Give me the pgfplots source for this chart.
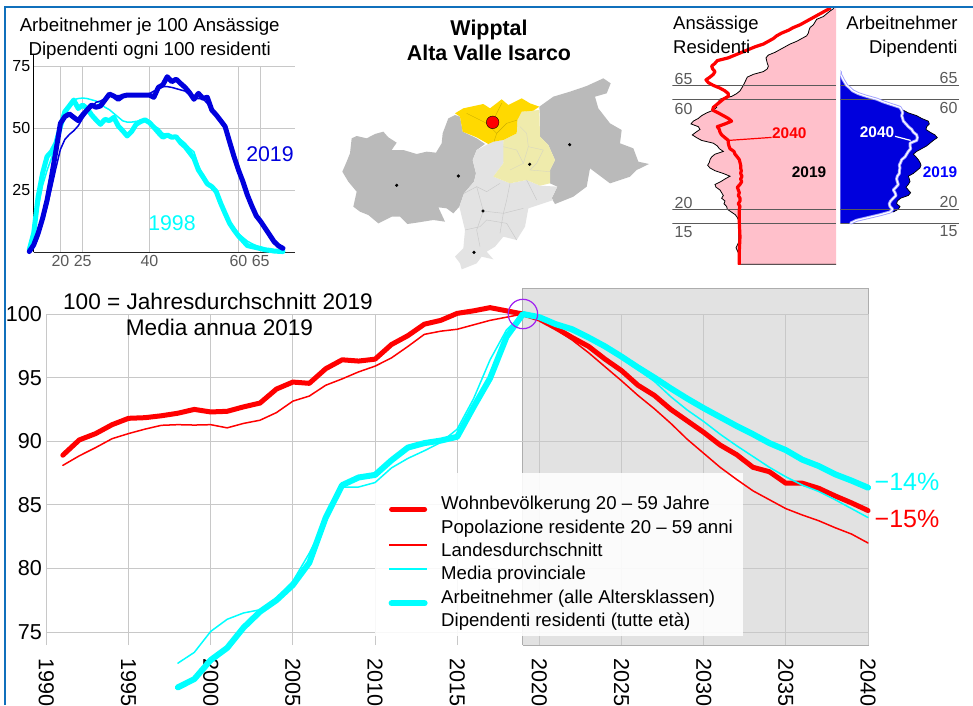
\documentclass[border=0pt]{standalone}
\usepackage{fontspec}
\setmainfont{Liberation Sans}
\usepackage{pgfplots}
\pgfplotsset{compat=1.18}
\newcommand\fs[1]{\fontsize{#1}{23}\selectfont}
\definecolor{cyan}{HTML}{00FFFF}
\definecolor{red}{HTML}{FF0000}
\definecolor{frameblue}{HTML}{1070BC}
\definecolor{gridc}{HTML}{C8C8C8}
\definecolor{darkb}{HTML}{0000DD}
\definecolor{pinkf}{HTML}{FFC0CB}
\definecolor{boxg}{HTML}{E2E2E2}
\definecolor{lab}{HTML}{5A5A5A}
\definecolor{mapg}{HTML}{BABABA}
\definecolor{mapl}{HTML}{E3E3E3}
\definecolor{mapy}{HTML}{FFD900}
\definecolor{mapp}{HTML}{EFEBAC}
\definecolor{purp}{HTML}{A020F0}
\definecolor{lav}{HTML}{A0A0FF}
\pgfplotsset{
  every axis/.append style={/pgf/number format/assume math mode=true,/pgf/number format/1000 sep={}},
  tl/.style={line join=round,line cap=round},
}
\begin{document}
\begin{tikzpicture}[x=1pt,y=1pt]
\useasboundingbox (0,0) rectangle (973,705);
\clip (0,0) rectangle (973,705);
\fill[white] (0,0) rectangle (973,705);

% ---------- top-left: employees per 100 residents by age
\begin{axis}[at={(33.7pt,452.7pt)},anchor=south west,scale only axis,width=261.3pt,height=186pt,
  xmin=14,xmax=72.7,ymin=0,ymax=75,clip=false,
  axis x line=bottom,axis y line=left,axis line style={-,color=black!85,line width=0.9pt},
  xtick={20,25,40,60,65},ytick={25,50,75},major tick length=0pt,
  xmajorgrids,ymajorgrids,grid style={gridc,line width=1.1pt},
  xticklabel style={font=\fs{16},text=lab,yshift=1pt},
  yticklabel style={font=\fs{16},text=black},
]
\addplot[black,line width=0.9pt] coordinates {(14,0)(14,80)};
\addplot[cyan,line width=1.5pt,tl] coordinates {(13,1)(14,7)(15,18)(16,27)(17,33)(18,38)(19,44)(20,52)(21,56.5)(22,59.5)(23,61.5)(24,62)(25,62.2)(26,62)(27,61.5)(28,61)(29,60)(30,58.5)(31,57.5)(32,56)(33,54.5)(34,53)(35,52.5)(36,52.5)(37,52.8)(38,53)(39,53.2)(40,52.3)(41,51)(42,50)(43,48)(44,47.3)(45,47)(46,46.8)(47,45.5)(48,44)(49,42)(50,40.5)(51,35)(52,31)(53,28)(54,26.5)(55,24)(56,20)(57,16)(58,12.5)(59,10)(60,7.5)(61,6)(62,4.5)(63,3.5)(64,2.7)(65,2)(66,1.5)(67,1)(68,.7)(69,.5)(70,.3)};
\addplot[cyan,line width=5pt,tl] coordinates {(13,1)(14,7.7)(15,22.4)(16,31.9)(17,38.6)(18,40.6)(19,44)(20,50.7)(21,56.7)(22,59)(23,61.4)(24,58)(25,59.4)(26,58)(27,55.4)(28,53.4)(29,51.6)(30,53.6)(31,53.1)(32,54.4)(33,50.9)(34,49)(35,46.9)(36,48.7)(37,51.6)(38,52.7)(39,53.4)(40,52.3)(41,50.4)(42,48.3)(43,46.4)(44,47.3)(45,46.4)(46,46.6)(47,44.2)(48,42.6)(49,40.3)(50,37.9)(51,33.2)(52,30.5)(53,27.6)(54,26.5)(55,24.5)(56,19.8)(57,15.7)(58,11.7)(59,9)(60,6.6)(61,4.7)(62,2.7)(63,2.3)(64,1.9)(65,1.5)(66,1)(67,.8)(68,.5)(69,.4)(70,.3)};
\addplot[darkb,line width=1.5pt,tl] coordinates {(13,.3)(14,2)(15,6)(16,12)(17,18.5)(18,26)(19,34)(20,41.5)(21,45.5)(22,47.5)(23,49)(24,51)(25,54)(26,56.5)(27,58.5)(28,60.5)(29,61)(30,62)(31,63)(32,63.2)(33,63.2)(34,63.3)(35,63.4)(36,63.5)(37,63.6)(38,63.7)(39,63.7)(40,64)(41,65)(42,66)(43,66.8)(44,66.8)(45,66.5)(46,66)(47,65.5)(48,65)(49,63.5)(50,62)(51,62)(52,62)(53,60)(54,57.5)(55,55)(56,53)(57,50)(58,44.6)};
\addplot[darkb,line width=5pt,tl] coordinates {(13,.3)(14,3)(15,7.7)(16,13.7)(17,21)(18,30.5)(19,41)(20,52)(21,54.7)(22,55.8)(23,54.4)(24,53.1)(25,55.4)(26,57.4)(27,59.4)(28,58.5)(29,59)(30,61.4)(31,63.8)(32,63)(33,61.7)(34,63)(35,63.4)(36,63.4)(37,63.4)(38,63.4)(39,63.4)(40,63.4)(41,62.5)(42,66.5)(43,67.5)(44,70.8)(45,68.8)(46,69.8)(47,68.1)(48,66.5)(49,64.4)(50,61.7)(51,64.1)(52,62.1)(53,62.5)(54,57.4)(55,55.4)(56,53.1)(57,50.7)(58,44.6)(59,38.6)(60,33.2)(61,28.5)(62,23.1)(63,18.7)(64,14.7)(65,12.4)(66,9.7)(67,7)(68,4.3)(69,2.6)(70,1.6)};
\end{axis}
\node[anchor=mid,font=\fs{18.7}] at (149.7,676.5) {Arbeitnehmer je 100 Ansässige};
\node[anchor=mid,font=\fs{18.7}] at (149.7,652.5) {Dipendenti ogni 100 residenti};
\node[anchor=mid,font=\fs{21.3},text=darkb] at (270,546) {2019};
\node[anchor=mid,font=\fs{21.3},text=cyan] at (172,477.3) {1998};

% ---------- map
\begin{axis}[at={(320pt,425pt)},anchor=south west,scale only axis,width=340pt,height=280pt,
  hide axis,xmin=0,xmax=1020,ymin=0,ymax=840,y dir=reverse,clip=false]
\addplot[fill=mapg,draw=none] coordinates {(67,515)(80,485)(90,460)(95,415)(110,408)(140,415)(165,402)(190,395)(205,412)(230,428)(215,450)(250,450)(290,462)(320,455)(348,458)(365,430)(368,400)(385,355)(405,345)(420,350)(428,395)(470,415)(495,432)(470,450)(458,480)(468,520)(462,545)(432,580)(418,620)(400,640)(380,625)(355,622)(375,665)(340,660)(290,668)(262,672)(240,650)(215,650)(175,670)(145,645)(120,635)(100,620)(110,575)(85,545)};
\addplot[fill=mapg,draw=none] coordinates {(658,320)(700,290)(750,275)(800,258)(850,235)(872,250)(860,280)(825,290)(835,325)(870,370)(905,390)(900,430)(940,445)(955,485)(987,492)(950,510)(930,530)(870,550)(810,505)(800,560)(760,590)(705,612)(695,595)(712,560)(690,550)(690,510)(705,480)(685,435)(660,410)(660,350)};
\addplot[fill=mapl,draw=none] coordinates {(505,432)(520,425)(550,420)(555,470)(550,490)(520,530)(570,550)(620,540)(660,557)(712,560)(695,595)(700,600)(625,625)(615,680)(590,720)(550,710)(525,740)(500,755)(520,778)(485,770)(470,790)(425,808)(420,790)(405,770)(430,745)(435,690)(418,620)(432,580)(462,545)(468,520)(458,480)(470,450)};
\addplot[fill=mapp,draw=none] coordinates {(605,335)(658,330)(660,410)(685,435)(705,480)(690,510)(690,550)(660,557)(620,540)(570,550)(520,530)(550,490)(550,420)(590,400)(592,360)};
\addplot[fill=mapy,draw=none] coordinates {(405,340)(430,325)(490,312)(510,325)(545,298)(565,315)(605,295)(630,310)(658,320)(640,332)(605,335)(592,360)(590,400)(550,420)(520,425)(505,432)(470,412)(428,395)(420,350)};
% commune borders
\addplot[black!22,line width=0.4pt] coordinates {(432,580)(470,560)(500,575)(540,550)};
\addplot[black!22,line width=0.4pt] coordinates {(470,560)(490,633)(470,690)(480,740)};
\addplot[black!22,line width=0.4pt] coordinates {(490,633)(550,640)(610,625)};
\addplot[black!22,line width=0.4pt] coordinates {(500,660)(560,670)(590,720)};
\addplot[black!22,line width=0.4pt] coordinates {(570,550)(560,600)(550,640)(540,700)};
\addplot[black!22,line width=0.4pt] coordinates {(620,540)(650,600)};
\addplot[black!22,line width=0.4pt] coordinates {(435,690)(480,680)(500,660)};
\addplot[mapp!70!black!45,line width=0.4pt] coordinates {(600,380)(620,400)(625,440)(610,490)(570,510)};
\addplot[mapp!70!black!45,line width=0.4pt] coordinates {(625,440)(670,450)(650,490)(630,510)(690,515)};
\addplot[mapp!70!black!45,line width=0.4pt] coordinates {(550,440)(590,450)(610,490)};
\addplot[mapy!80!black,line width=0.4pt] coordinates {(440,340)(500,370)(530,400)(522,425)};
\addplot[mapy!80!black,line width=0.4pt] coordinates {(530,400)(560,370)(592,360)};
\addplot[mapy!80!black,line width=0.4pt] coordinates {(545,310)(530,340)(518,367)};
\addplot[only marks,mark=*,mark size=1.4pt,mark options={fill=black,draw=none}] coordinates {(230,556)(415,528)(749,434)(629,493)(489,633)(462,757)};
\addplot[only marks,mark=*,mark size=6.3pt,mark options={fill=red,draw=none}] coordinates {(518,367)};
\end{axis}
\node[anchor=mid,font=\bfseries\fs{21.4}] at (489,672) {Wipptal};
\node[anchor=mid,font=\bfseries\fs{21.4}] at (489,647) {Alta Valle Isarco};

% ---------- left pyramid
\begin{axis}[at={(672.3pt,440.7pt)},anchor=south west,scale only axis,width=163.7pt,height=256pt,
  hide axis,xmin=0,xmax=491,x dir=reverse,ymin=0,ymax=93]
\addplot[fill=pinkf,draw=none] coordinates {(0,0)(290,0)(290,1)(290,2)(292,3)(292,4)(296,5)(300,6)(296,7)(292,8)(292,9)(292,14)(292,15)(292,16)(296,17)(302,18)(314,19)(326,20)(328,21)(336,22)(333,23)(343,24)(338,25)(343,26)(348,27)(360,28)(363,29)(346,30)(333,31)(318,32)(338,33)(363,34)(378,35)(385,36)(380,37)(378,38)(373,39)(363,40)(338,41)(350,42)(356,43)(368,44)(403,45)(418,46)(431,47)(420,48)(408,49)(413,50)(435,51)(428,52)(413,53)(403,54)(388,55)(368,56)(358,57)(360,58)(353,59)(348,60)(313,61)(298,62)(288,63)(283,64)(278,65)(274,66)(270,67)(266,68)(248,69)(218,70)(206,71)(203,72)(206,73)(208,74)(210,75)(203,76)(183,77)(168,78)(153,79)(138,80)(118,81)(103,82)(88,83)(83,84)(81,85)(78,86)(68,87)(63,88)(58,89)(38,90)(28,91)(18,92)(6,93)(0,93)};
\addplot[black,line width=0.8pt] coordinates {(0,0)(290,0)(290,1)(290,2)(292,3)(292,4)(296,5)(300,6)(296,7)(292,8)(292,9)(292,14)(292,15)(292,16)(296,17)(302,18)(314,19)(326,20)(328,21)(336,22)(333,23)(343,24)(338,25)(343,26)(348,27)(360,28)(363,29)(346,30)(333,31)(318,32)(338,33)(363,34)(378,35)(385,36)(380,37)(378,38)(373,39)(363,40)(338,41)(350,42)(356,43)(368,44)(403,45)(418,46)(431,47)(420,48)(408,49)(413,50)(435,51)(428,52)(413,53)(403,54)(388,55)(368,56)(358,57)(360,58)(353,59)(348,60)(313,61)(298,62)(288,63)(283,64)(278,65)(274,66)(270,67)(266,68)(248,69)(218,70)(206,71)(203,72)(206,73)(208,74)(210,75)(203,76)(183,77)(168,78)(153,79)(138,80)(118,81)(103,82)(88,83)(83,84)(81,85)(78,86)(68,87)(63,88)(58,89)(38,90)(28,91)(18,92)(6,93)};
\addplot[lab,line width=0.9pt] coordinates {(491,15)(0,15)};
\addplot[lab,line width=0.9pt] coordinates {(491,20)(0,20)};
\addplot[lab,line width=0.9pt] coordinates {(491,60)(0,60)};
\addplot[lab,line width=0.9pt] coordinates {(491,65)(0,65)};
\addplot[red,line width=3.2pt,tl] coordinates {(290,0)(290,5)(288,10)(290,15)(290,20)(288,21)(293,22)(288,23)(288,24)(293,25)(290,26)(293,27)(296,28)(288,29)(283,30)(286,31)(282,32)(286,33)(284,34)(286,35)(286,36)(288,37)(290,38)(296,39)(303,40)(306,41)(318,42)(321,43)(323,44)(323,45)(333,46)(343,47)(348,48)(350,49)(356,50)(333,51)(313,52)(323,53)(338,54)(353,55)(370,56)(368,57)(358,58)(348,59)(338,60)(323,61)(323,62)(333,63)(348,64)(368,65)(383,66)(390,67)(378,68)(368,69)(363,70)(370,71)(373,72)(363,73)(356,74)(323,75)(303,76)(283,77)(263,78)(243,79)(218,80)(203,81)(188,82)(178,83)(163,84)(143,85)(128,86)(108,87)(93,88)(78,89)(63,90)(48,91)(33,92)(18,93)};
\addplot[red,line width=1.2pt] coordinates {(323,45)(193,46.1)};
\end{axis}
\node[anchor=mid,font=\bfseries\fs{15.4},text=red] at (789.3,569.5) {2040};
\node[anchor=mid,font=\bfseries\fs{15.4}] at (809,529.8) {2019};
\node[anchor=base west,font=\fs{18.5}] at (669.7,675) {Ansässige};
\node[anchor=base west,font=\fs{18.5}] at (669.7,651) {Residenti};
\foreach \a/\y in {65/623.5,60/593.5,20/499.5,15/470.5}{\node[anchor=mid,font=\fs{16},text=lab] at (683.5,\y) {\a};}

% ---------- right pyramid
\begin{axis}[at={(840.3pt,440.7pt)},anchor=south west,scale only axis,width=118.7pt,height=256pt,
  hide axis,xmin=0,xmax=356,ymin=0,ymax=93]
\addplot[fill=darkb,draw=none] coordinates {(0,15)(34,15)(49,16)(79,17)(119,18)(159,19)(174,20)(179,21)(169,22)(171,23)(181,24)(204,25)(211,26)(204,27)(197,28)(204,29)(209,30)(207,31)(204,32)(219,33)(229,34)(239,35)(242,36)(239,37)(234,38)(227,39)(219,40)(229,41)(244,42)(259,43)(269,44)(279,45)(291,46)(284,47)(269,48)(257,49)(259,50)(267,51)(264,52)(244,53)(229,54)(204,55)(189,56)(171,57)(149,58)(129,59)(109,60)(84,61)(59,62)(44,63)(31,64)(21,65)(14,66)(9,67)(5,68)(2,69)(0,70)};
\addplot[black,line width=0.7pt] coordinates {(159,19)(174,20)(179,21)(169,22)(171,23)(181,24)(204,25)(211,26)(204,27)(197,28)(204,29)(209,30)(207,31)(204,32)(219,33)(229,34)(239,35)(242,36)(239,37)(234,38)(227,39)(219,40)(229,41)(244,42)(259,43)(269,44)(279,45)(291,46)(284,47)(269,48)(257,49)(259,50)(267,51)(264,52)(244,53)(229,54)(204,55)(189,56)};
\addplot[lab,line width=0.9pt] coordinates {(0,15)(356,15)};
\addplot[lab,line width=0.9pt] coordinates {(0,20)(356,20)};
\addplot[lab,line width=0.9pt] coordinates {(0,60)(356,60)};
\addplot[lab,line width=0.9pt] coordinates {(0,65)(356,65)};
\addplot[lav,line width=3pt,tl] coordinates {(31,15)(49,16)(84,17)(119,18)(149,19)(157,20)(149,21)(147,22)(151,23)(159,24)(167,25)(164,26)(159,27)(167,28)(174,29)(171,30)(169,31)(171,32)(177,33)(177,34)(179,35)(177,36)(181,37)(184,38)(194,39)(199,40)(204,41)(211,42)(209,43)(209,44)(229,45)(231,46)(229,47)(219,48)(214,49)(204,50)(197,51)(189,52)(187,53)(184,54)(187,55)(184,56)(179,57)(154,58)(129,59)(109,60)(79,61)(54,62)(37,63)(29,64)(19,65)(14,66)(9,67)(5,68)(0,69)(0,70)};
\addplot[white,line width=1.2pt,tl] coordinates {(31,15)(49,16)(84,17)(119,18)(149,19)(157,20)(149,21)(147,22)(151,23)(159,24)(167,25)(164,26)(159,27)(167,28)(174,29)(171,30)(169,31)(171,32)(177,33)(177,34)(179,35)(177,36)(181,37)(184,38)(194,39)(199,40)(204,41)(211,42)(209,43)(209,44)(229,45)(231,46)(229,47)(219,48)(214,49)(204,50)(197,51)(189,52)(187,53)(184,54)(187,55)(184,56)(179,57)(154,58)(129,59)(109,60)(79,61)(54,62)(37,63)(29,64)(19,65)(14,66)(9,67)(5,68)(0,69)(0,70)};
\addplot[white,line width=1.2pt] coordinates {(211,45)(164,46.5)};
\end{axis}
\node[anchor=mid,font=\bfseries\fs{15.4},text=white] at (877,569.8) {2040};
\node[anchor=mid,font=\bfseries\fs{15.4},text=blue] at (940,529.8) {2019};
\node[anchor=base east,font=\fs{18.5}] at (961,675) {Arbeitnehmer};
\node[anchor=base east,font=\fs{18.5}] at (961,651) {Dipendenti};
\foreach \a/\y in {65/627,60/597,20/503,15/474}{\node[anchor=east,font=\fs{16},text=lab] at (961,\y) {\a};}

% ---------- main: grey forecast background
\begin{axis}[at={(46.4pt,60pt)},anchor=south west,scale only axis,width=821.6pt,height=331pt,
  hide axis,xmin=1990,xmax=2040,ymin=73.98,ymax=100,clip=false]
\addplot[fill=boxg,draw=black!32,line width=0.9pt] coordinates {(2019,73.98)(2040,73.98)(2040,102.04)(2019,102.04)(2019,73.98)};
\end{axis}

% ---------- main
\begin{axis}[at={(46.4pt,60pt)},anchor=south west,scale only axis,width=821.6pt,height=331pt,
  xmin=1990,xmax=2040,ymin=73.98,ymax=100,clip=false,
  axis line style={draw=none},major tick length=0pt,
  xtick={1990,1995,2000,2005,2010,2015,2020,2025,2030,2035,2040},
  ytick={75,80,85,90,95,100},
  xmajorgrids,ymajorgrids,grid style={gridc,line width=1pt},
  xticklabel style={font=\fs{21.6},rotate=-90,anchor=west,xshift=10pt},
  yticklabel style={font=\fs{21.6},text=black,xshift=-1pt},
  legend style={at={(0.4169,0.4592)},anchor=north west,draw=none,fill=none,inner sep=0pt,
    font=\fs{18.6},row sep=0pt,
    nodes={inner sep=0pt,outer sep=0pt,text height=16.4pt,text depth=7pt},
    /tikz/every odd column/.append style={column sep=52.1pt}},
  legend cell align=left,
]
\addplot[forget plot,fill=white,fill opacity=0.88,draw=none] coordinates {(2010,87.5)(2032.4,87.5)(2032.4,74.69)(2010,74.69)};
\addlegendimage{legend image code/.code={\draw[overlay,red,line width=5pt,line cap=round] (2.5pt,-4.5pt)--(35.5pt,-4.5pt);}}
\addlegendentry{Wohnbevölkerung 20 – 59 Jahre}
\addlegendimage{legend image code/.code={}}
\addlegendentry{Popolazione residente 20 – 59 anni}
\addlegendimage{legend image code/.code={\draw[overlay,red,line width=1.5pt] (0pt,6.5pt)--(38pt,6.5pt);}}
\addlegendentry{Landesdurchschnitt}
\addlegendimage{legend image code/.code={\draw[overlay,cyan,line width=1.5pt] (0pt,6.3pt)--(38pt,6.3pt);}}
\addlegendentry{Media provinciale}
\addlegendimage{legend image code/.code={\draw[overlay,cyan,line width=6pt,line cap=round] (2.5pt,-4.7pt)--(35.5pt,-4.7pt);}}
\addlegendentry{Arbeitnehmer (alle Altersklassen)}
\addlegendimage{legend image code/.code={}}
\addlegendentry{Dipendenti residenti (tutte età)}
% thick red
\addplot[forget plot,red,line width=5pt,tl] coordinates {(1991,88.9)(1992,90.1)(1993,90.6)(1994,91.3)(1995,91.8)(1996,91.85)(1997,92)(1998,92.2)(1999,92.5)(2000,92.3)(2001,92.35)(2002,92.7)(2003,93)(2004,94.1)(2005,94.65)(2006,94.55)(2007,95.7)(2008,96.4)(2009,96.3)(2010,96.45)(2011,97.6)(2012,98.3)(2013,99.2)(2014,99.5)(2015,100.05)(2016,100.25)(2017,100.5)(2018,100.25)(2019,100)(2020,99.6)(2021,98.9)(2022,98.15)(2023,97.45)(2024,96.45)(2025,95.55)(2026,94.4)(2027,93.6)(2028,92.5)(2029,91.6)(2030,90.7)(2031,89.7)(2032,88.95)(2033,87.95)(2034,87.6)(2035,86.7)(2036,86.7)(2037,86.3)(2038,85.7)(2039,85.15)(2040,84.55)};
% thin red
\addplot[forget plot,red,line width=1.5pt,tl] coordinates {(1991,88.1)(1992,88.85)(1993,89.5)(1994,90.2)(1995,90.6)(1996,90.95)(1997,91.25)(1998,91.3)(1999,91.27)(2000,91.3)(2001,91.05)(2002,91.4)(2003,91.65)(2004,92.25)(2005,93.15)(2006,93.55)(2007,94.4)(2008,94.9)(2009,95.45)(2010,95.9)(2011,96.55)(2012,97.45)(2013,98.4)(2014,98.65)(2015,98.8)(2016,99.15)(2017,99.5)(2018,99.75)(2019,100)(2020,99.6)(2021,98.8)(2022,97.95)(2023,96.95)(2024,95.85)(2025,94.75)(2026,93.6)(2027,92.55)(2028,91.4)(2029,90.15)(2030,89.05)(2031,87.95)(2032,87)(2033,86.1)(2034,85.4)(2035,84.7)(2036,84.2)(2037,83.75)(2038,83.2)(2039,82.7)(2040,82)};
% thin cyan
\addplot[forget plot,cyan,line width=1.5pt,tl] coordinates {(1998,72.55)(1999,73.4)(2000,75.05)(2001,76)(2002,76.5)(2003,76.75)(2004,77.65)(2005,79)(2006,81.2)(2007,83.8)(2008,86.4)(2009,86.4)(2010,86.75)(2011,87.9)(2012,88.65)(2013,89.25)(2014,89.9)(2015,90.95)(2016,93.35)(2017,96.4)(2018,98.75)(2019,100)(2020,99.75)(2021,99.15)(2022,98.6)(2023,98)(2024,97.3)(2025,96.5)(2026,95.6)(2027,94.7)(2028,93.5)(2029,92.45)(2030,91.55)(2031,90.55)(2032,89.65)(2033,88.8)(2034,87.95)(2035,87.2)(2036,86.55)(2037,86.05)(2038,85.4)(2039,84.7)(2040,84)};
% thick cyan
\addplot[forget plot,cyan,line width=6pt,tl] coordinates {(1998,70.65)(1999,71.3)(2000,72.8)(2001,73.75)(2002,75.35)(2003,76.6)(2004,77.5)(2005,78.7)(2006,80.45)(2007,84)(2008,86.55)(2009,87.15)(2010,87.35)(2011,88.5)(2012,89.5)(2013,89.85)(2014,90.05)(2015,90.35)(2016,92.7)(2017,94.95)(2018,98.2)(2019,100)(2020,99.75)(2021,99.2)(2022,98.8)(2023,98.15)(2024,97.45)(2025,96.65)(2026,95.8)(2027,95)(2028,94.15)(2029,93.35)(2030,92.6)(2031,91.9)(2032,91.2)(2033,90.55)(2034,89.85)(2035,89.3)(2036,88.55)(2037,88.05)(2038,87.4)(2039,86.9)(2040,86.35)};
\addplot[forget plot,only marks,mark=o,mark size=14.7pt,mark options={draw=purp,line width=1.2pt}] coordinates {(2019,100)};
\end{axis}
\node[anchor=mid,font=\fs{22.6}] at (218,398.3) {100 = Jahresdurchschnitt 2019};
\node[anchor=mid,font=\fs{22.6}] at (219.5,372) {Media annua 2019};
\node[anchor=mid,font=\fs{25},text=cyan] at (907,217.3) {−14\%};
\node[anchor=mid,font=\fs{25},text=red] at (907,180) {−15\%};

% ---------- frame
\draw[frameblue,line width=2.2pt] (5.2,0)--(5.2,697.6)--(973,697.6);
\end{tikzpicture}
\end{document}
